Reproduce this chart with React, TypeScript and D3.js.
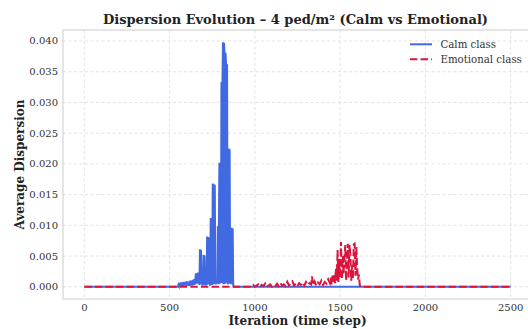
import React from "react";
import * as d3 from "d3";

// ---- Data ----
// Calm class: active burst sampled every 3 iterations starting at iteration 549
const calmStart = 549;
const calmStep = 3;
const calmValues = [
  0, 0.0003, 0.0001, 0.0006, 0.0002, 0.0007, 0.0001, 0.0006, 0.0002, 0.0007,
  0.0001, 0.0008, 0.0003, 0.0008, 0.0002, 0.0007, 0.0001, 0.0009, 0.0003, 0.0008,
  0.0002, 0.0006, 0.0001, 0.001, 0.0002, 0.001, 0.0003, 0.0009, 0.0002, 0.0011,
  0.0004, 0.0012, 0.0003, 0.0013, 0.0004, 0.0022, 0.0006, 0.0022, 0.0005, 0.0023,
  0.0007, 0.0021, 0.0003, 0.0061, 0.0005, 0.006, 0.0004, 0.0012, 0.0002, 0.001,
  0.0052, 0.0003, 0.0051, 0.0006, 0.0002, 0.0011, 0.0003, 0.0082, 0.0004, 0.0081,
  0.0006, 0.008, 0.0004, 0.0002, 0.0112, 0.0004, 0.0111, 0.0003, 0.0168, 0.0005,
  0.0167, 0.0004, 0.0166, 0.0008, 0.0004, 0.0009, 0.0006, 0.0012, 0.0099, 0.0004,
  0.0098, 0.0202, 0.0005, 0.0202, 0.0008, 0.0333, 0.0006, 0.0332, 0.0398, 0.0004,
  0.0397, 0.0382, 0.0005, 0.0381, 0.0363, 0.0007, 0.0362, 0.0004, 0.0009, 0.0225,
  0.0005, 0.0224, 0.0006, 0.0096, 0.0004, 0.0096, 0.0005, 0.0095, 0.0004, 0,
];
const calmIterations = [0, ...calmValues.map((_, i) => calmStart + i * calmStep), 2500];
const calmSeries = [0, ...calmValues, 0];

const emotionalPoints: [number, number][] = [
  [0, 0], [980, 0], [990, 0.0003], [1000, 0], [1010, 0.0002], [1020, 0.0004], [1030, 0],
  [1040, 0.0003], [1050, 0.0001], [1060, 0.0005], [1070, 0], [1080, 0.0002], [1090, 0.0004],
  [1100, 0], [1110, 0.0003], [1120, 0.0001], [1130, 0.0005], [1140, 0.0001], [1150, 0.0006],
  [1160, 0.0002], [1170, 0.0004], [1180, 0.0001], [1190, 0.0008], [1200, 0.0002], [1210, 0.0006],
  [1220, 0.0009], [1230, 0.0002], [1240, 0.0005], [1250, 0.0001], [1260, 0.0006], [1270, 0.0003],
  [1280, 0.0007], [1290, 0.0002], [1300, 0.0008], [1310, 0.0003], [1320, 0.0006], [1330, 0.0004],
  [1335, 0.0017], [1340, 0.0003], [1350, 0.0009], [1360, 0.0002], [1370, 0.0007], [1380, 0.0004],
  [1390, 0.001], [1400, 0.0003], [1410, 0.0008], [1420, 0.0005], [1430, 0.0012], [1440, 0.0006],
  [1445, 0.0015], [1450, 0.0004], [1455, 0.0018], [1460, 0.0008], [1465, 0.002], [1470, 0.0006],
  [1475, 0.003], [1480, 0.001], [1485, 0.006], [1490, 0.0008], [1495, 0.0045], [1500, 0.0015],
  [1505, 0.0073], [1510, 0.0012], [1515, 0.005], [1520, 0.002], [1525, 0.0046], [1530, 0.0068],
  [1535, 0.001], [1540, 0.004], [1545, 0.007], [1550, 0.0015], [1555, 0.0068], [1560, 0.0052],
  [1565, 0.001], [1570, 0.0035], [1575, 0.0012], [1580, 0.0069], [1585, 0.007], [1590, 0.0018],
  [1595, 0.0065], [1600, 0.003], [1605, 0.0012], [1610, 0.002], [1615, 0.0003], [1620, 0],
  [2500, 0],
];

const xTicks = [0, 500, 1000, 1500, 2000, 2500];
const yTicks = [0, 0.005, 0.01, 0.015, 0.02, 0.025, 0.03, 0.035, 0.04];

const title = "Dispersion Evolution – 4 ped/m² (Calm vs Emotional)";
const xLabel = "Iteration (time step)";
const yLabel = "Average Dispersion";
const legendLabels = ["Calm class", "Emotional class"];

const W = 528, H = 329;
const plot = { left: 63, right: 532, top: 30, bottom: 299 };
const font = "'DejaVu Serif', serif";

export default function App() {
  const x = d3.scaleLinear().domain([-125, 2625]).range([plot.left, plot.right]);
  const y = d3.scaleLinear().domain([-0.00199, 0.04179]).range([plot.bottom, plot.top]);
  const line = d3.line<[number, number]>().x((d) => x(d[0])).y((d) => y(d[1]));
  const calmPoints: [number, number][] = calmIterations.map((it, i) => [it, calmSeries[i]]);
  const blue = "#4169E1";
  const red = "#DC143C";
  const grid = "#dcdcdc";

  return (
    <svg width={W} height={H} style={{ position: "absolute", left: 0, top: 0, background: "#fff" }}>
      <defs>
        <clipPath id="plotclip">
          <rect x={plot.left} y={plot.top} width={plot.right - plot.left} height={plot.bottom - plot.top} />
        </clipPath>
      </defs>
      <rect x={0} y={0} width={W} height={H} fill="#fff" />
      {xTicks.map((t) => (
        <line key={"gx" + t} x1={x(t)} x2={x(t)} y1={plot.top} y2={plot.bottom}
          stroke={grid} strokeWidth={0.8} strokeDasharray="3,2.5" />
      ))}
      {yTicks.map((t) => (
        <line key={"gy" + t} x1={plot.left} x2={plot.right} y1={y(t)} y2={y(t)}
          stroke={grid} strokeWidth={0.8} strokeDasharray="3,2.5" />
      ))}
      <rect x={plot.left} y={plot.top} width={plot.right - plot.left} height={plot.bottom - plot.top}
        fill="none" stroke="#cccccc" strokeWidth={1} />
      <g clipPath="url(#plotclip)">
        <path d={line(calmPoints) || ""} fill="none" stroke={blue} strokeWidth={2} strokeLinejoin="miter" />
        <path d={line(emotionalPoints) || ""} fill="none" stroke={red} strokeWidth={2}
          strokeDasharray="7.4,3.2" />
      </g>
      {xTicks.map((t) => (
        <text key={"tx" + t} x={x(t)} y={311} textAnchor="middle" fontFamily={font} fontSize={10} fill="#333">
          {d3.format("d")(t)}
        </text>
      ))}
      {yTicks.map((t) => (
        <text key={"ty" + t} x={58} y={y(t) + 3.5} textAnchor="end" fontFamily={font} fontSize={10} fill="#333">
          {d3.format(".3f")(t)}
        </text>
      ))}
      <text x={(plot.left + plot.right) / 2} y={325} textAnchor="middle" fontFamily={font}
        fontSize={12} fontWeight="bold" fill="#222">{xLabel}</text>
      <text transform={`translate(24,${(plot.top + plot.bottom) / 2}) rotate(-90)`} textAnchor="middle"
        fontFamily={font} fontSize={12} fontWeight="bold" fill="#222">{yLabel}</text>
      <text x={(plot.left + plot.right) / 2 - 2} y={24} textAnchor="middle" fontFamily={font}
        fontSize={13} fontWeight="bold" fill="#222">{title}</text>
      <line x1={410} x2={432} y1={44.3} y2={44.3} stroke={blue} strokeWidth={2} />
      <line x1={410} x2={432} y1={59.3} y2={59.3} stroke={red} strokeWidth={2} strokeDasharray="7.4,3.2" />
      <text x={440.5} y={47.8} fontFamily={font} fontSize={10.2} fill="#333">{legendLabels[0]}</text>
      <text x={440.5} y={62.8} fontFamily={font} fontSize={10.2} fill="#333">{legendLabels[1]}</text>
    </svg>
  );
}
